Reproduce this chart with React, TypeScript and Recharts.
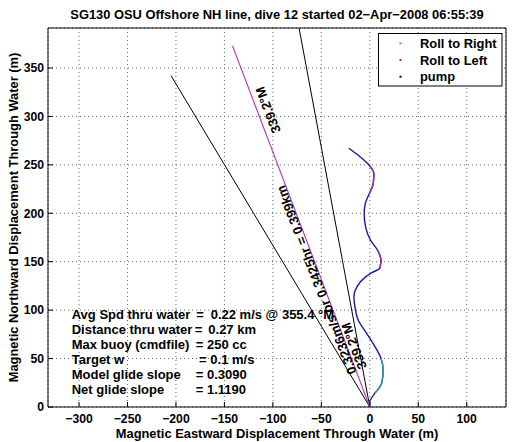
import React from 'react';
import { ScatterChart, Scatter, XAxis, YAxis, CartesianGrid } from 'recharts';

const xTicks = [-300, -250, -200, -150, -100, -50, 0, 50, 100];
const yTicks = [0, 50, 100, 150, 200, 250, 300, 350];

// dive track (m), from surface start at origin
const trackEast = [0, 0.1, 5.3, 12.2, 13.8, 11.5, 5.3, -3.3, -12, -15.4, -16.4, -13.2, -4, 2.2, 10.4, 11.5, 8.1, 0.8, -4.3, -5.8, -4.7, -0.6, 3.5, 4.2, -0.6, -10.2, -21.6];
const trackNorth = [0, 5.6, 14.2, 24.5, 38.3, 50.4, 62.4, 76.1, 89.9, 103.6, 113.9, 124.2, 134.6, 138.7, 143.5, 151.5, 161.8, 172.1, 185.8, 199.6, 209.9, 220.2, 230.6, 240.9, 249.5, 258.4, 267.1];
const rollRightRanges = [[2, 5]];
const rollLeftRanges = [[14, 16], [21, 24]];

const leftRefLine = [{ x: 0, y: 0 }, { x: -205, y: 342 }];
const headingLine = [{ x: 0, y: 0 }, { x: -141.7, y: 373 }];
const steepRefLine = [{ x: 0, y: 0 }, { x: -73, y: 391.3 }];

const titleText = 'SG130 OSU Offshore NH line, dive 12 started 02\u2212Apr\u22122008 06:55:39';
const xLabel = 'Magnetic Eastward Displacement Through Water (m)';
const yLabel = 'Magnetic Northward Displacement Through Water (m)';
const legendNames = ['Roll to Right', 'Roll to Left', 'pump'];
const legendColors = ['#33cc33', '#cc2222', '#000000'];
const statLabels = ['Avg Spd thru water', 'Distance thru water', 'Max buoy (cmdfile)', 'Target w', 'Model glide slope', 'Net glide slope'];
const statValues = ['0.22 m/s @ 355.4 \u00b0M', '0.27 km', '250 cc', '0.1 m/s', '0.3090', '1.1190'];
const headingLabel = '339.2\u00b0M';
const speedLabel = '0.3236m/s or 0.3425hr = 0.399km';

const track = trackEast.map((x, i) => ({ x, y: trackNorth[i] }));
const slice = (r: number[]) => track.slice(r[0], r[1] + 1);

const FONT = '"Liberation Sans", Arial, Helvetica, sans-serif';
const fmt = (v: number) => (v < 0 ? '\u2212' + Math.abs(v) : String(v));
const noShape = () => <g />;

const eqX = [196.2, 194.7, 195.7, 199, 195.7, 195.7];
const valX = [210.7, 208.3, 207, 210.3, 207, 207];

export default function App() {
  const tickStyle = { fill: '#000', fontSize: 12.2, fontWeight: 'bold', fontFamily: FONT };
  return (
    <div style={{ position: 'absolute', left: 0, top: 0, width: 514, height: 442, background: '#fff' }}>
      <ScatterChart width={514} height={442} margin={{ top: 27, right: 7, bottom: 0, left: 0 }}>
        <CartesianGrid stroke="#666" strokeDasharray="1 3" strokeWidth={1} />
        <XAxis type="number" dataKey="x" domain={[-332, 140.5]} allowDataOverflow ticks={xTicks} interval={0}
          height={35} tickSize={-5} tickMargin={12} tickFormatter={fmt} tick={tickStyle} stroke="#000" />
        <XAxis xAxisId="top" orientation="top" type="number" dataKey="x" domain={[-332, 140.5]} allowDataOverflow ticks={xTicks} interval={0}
          height={1} tickSize={-5} tick={false} stroke="#000" />
        <YAxis type="number" dataKey="y" domain={[0, 391.3]} allowDataOverflow ticks={yTicks} interval={0}
          width={48} tickSize={-5} tickMargin={9} tick={tickStyle} stroke="#000" />
        <YAxis yAxisId="right" orientation="right" type="number" dataKey="y" domain={[0, 391.3]} allowDataOverflow ticks={yTicks} interval={0}
          width={1} tickSize={-5} tick={false} stroke="#000" />
        <Scatter data={leftRefLine} fill="#000" line={{ stroke: '#000', strokeWidth: 1 }} shape={noShape} isAnimationActive={false} />
        <Scatter data={steepRefLine} fill="#000" line={{ stroke: '#000', strokeWidth: 1 }} shape={noShape} isAnimationActive={false} />
        <Scatter data={headingLine} fill="#b53ab5" line={{ stroke: '#b53ab5', strokeWidth: 1.1 }} shape={noShape} isAnimationActive={false} />
        <Scatter data={track} fill="#1b1b9a" line={{ stroke: '#1b1b9a', strokeWidth: 1.4 }} lineJointType="monotoneY" shape={noShape} isAnimationActive={false} />
        {rollRightRanges.map((r, i) => (
          <Scatter key={'rr' + i} data={slice(r)} fill="#2aa39a" line={{ stroke: '#2aa39a', strokeWidth: 1.4 }} lineJointType="monotoneY" shape={noShape} isAnimationActive={false} />
        ))}
        {rollLeftRanges.map((r, i) => (
          <Scatter key={'rl' + i} data={slice(r)} fill="#9a3590" line={{ stroke: '#9a3590', strokeWidth: 1.4 }} lineJointType="monotoneY" shape={noShape} isAnimationActive={false} />
        ))}
      </ScatterChart>
      <svg width={514} height={442} style={{ position: 'absolute', left: 0, top: 0, pointerEvents: 'none' }}
        fontFamily={FONT} fontWeight="bold" fill="#000">
        <text x={277} y={14} fontSize={12.9} textAnchor="middle" dominantBaseline="central">{titleText}</text>
        <text x={277} y={433.3} fontSize={12.9} textAnchor="middle" dominantBaseline="central">{xLabel}</text>
        <text transform="translate(13.3,217.5) rotate(-90)" fontSize={12.9} textAnchor="middle" dominantBaseline="central">{yLabel}</text>
        <rect x={378.5} y={33.5} width={123.5} height={52.5} fill="#fff" stroke="#000" strokeWidth={1} />
        {legendNames.map((n, i) => (
          <g key={n}>
            <rect x={399.5} y={43.3 + i * 16.7 - 1} width={2} height={2} fill={legendColors[i]} />
            <text x={420} y={43.3 + i * 16.7} fontSize={12.9} dominantBaseline="central">{n}</text>
          </g>
        ))}
        {statLabels.map((l, i) => (
          <g key={l} fontSize={13}>
            <text x={71.7} y={314.7 + i * 15} dominantBaseline="central">{l}</text>
            <text x={eqX[i]} y={314.7 + i * 15} dominantBaseline="central">=</text>
            <text x={valX[i]} y={314.7 + i * 15} dominantBaseline="central">{statValues[i]}</text>
          </g>
        ))}
        <text transform="translate(268,110) rotate(-111)" fontSize={13} textAnchor="middle" dominantBaseline="central">{headingLabel}</text>
        <text transform="translate(316.5,280) rotate(-111)" fontSize={13} textAnchor="middle" dominantBaseline="central">{speedLabel}</text>
        <text transform="translate(354,346) rotate(-111)" fontSize={13} textAnchor="middle" dominantBaseline="central">{headingLabel}</text>
      </svg>
    </div>
  );
}
